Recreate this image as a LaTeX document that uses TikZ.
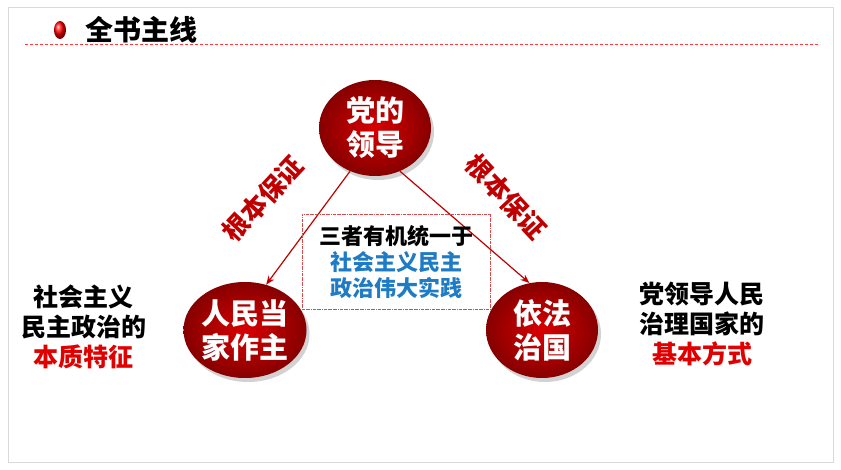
\documentclass[tikz,border=0pt]{standalone}
\usepackage{fontspec}
\setmainfont{Noto Sans CJK SC Black}
\usetikzlibrary{shapes.geometric,arrows.meta,shadows}
\definecolor{dred}{HTML}{C00000}
\definecolor{bred}{HTML}{E00000}
\definecolor{tblue}{HTML}{1F7BC4}
\tikzset{
 oval/.style={ellipse,minimum width=#1,minimum height=96pt,inner sep=0pt,
   shading=radial,inner color=red!85!black,outer color=dred!70!black,
   drop shadow={opacity=0.35,shadow xshift=3pt,shadow yshift=-4pt},
   text=white,font=\fontsize{29}{34}\selectfont,align=center},
 conn/.style={draw=dred,line width=1.2pt,-{Stealth[length=9pt,width=7pt]}},
 lab/.style={text=dred,font=\fontsize{26}{28}\selectfont},
 side/.style={font=\fontsize{25}{30}\selectfont,align=center}
}
\begin{document}
\begin{tikzpicture}[x=1pt,y=-1pt]
\useasboundingbox (0,0) rectangle (841,470);
\fill[white] (0,0) rectangle (841,470);
\draw[gray!30,line width=1pt] (8,8) rectangle (833,462);
\shade[ball color=red] (60,30) ellipse (6pt and 9pt);
\node[anchor=west,font=\fontsize{28}{30}\selectfont] (title) at (82,30) {全书主线};
\coordinate (l1) at (25,44); \coordinate (l2) at (820,44);
\draw[red!70!pink,densely dashed,line width=0.8pt] (l1) -- (l2);
\node[oval=112pt] (top) at (375,128) {党的\\领导};
\node[oval=118pt] (left) at (245,330) {人民当\\家作主};
\node[oval=112pt] (right) at (542,330) {依法\\治国};
\draw[conn] (top.240) -- (left.65);
\draw[conn] (top.300) -- (right.105);
\node[lab,rotate=47] (ll) at (263,199) {根本保证};
\node[lab,rotate=-47] (rl) at (506,197) {根本保证};
\node[draw=dred!70,densely dashdotted,line width=0.6pt,minimum width=188pt,minimum height=95pt,align=center,font=\fontsize{22}{26}\selectfont] (mid) at (396,262)
 {三者有机统一于\\\textcolor{tblue}{社会主义民主}\\\textcolor{tblue}{政治伟大实践}};
\node[side] (lt) at (84,327) {社会主义\\民主政治的\\\textcolor{bred}{本质特征}};
\node[side] (rt) at (702,324) {党领导人民\\治理国家的\\\textcolor{bred}{基本方式}};
\end{tikzpicture}
\end{document}
